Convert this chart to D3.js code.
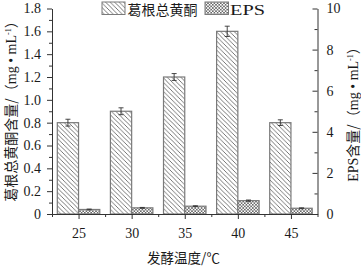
<!DOCTYPE html>
<html><head><meta charset="utf-8">
<script src="https://cdn.jsdelivr.net/npm/d3@7"></script>
<style>
html,body{margin:0;padding:0;background:#fff;}
svg{display:block;}
text{fill:#1a1a1a;}
</style></head>
<body>
<svg id="c" width="361" height="266"></svg>
<script>
const temps = [25, 30, 35, 40, 45];
const flavone = [0.80, 0.90, 1.20, 1.60, 0.80];
const flavoneErr = [0.03, 0.03, 0.03, 0.045, 0.025];
const eps = [0.22, 0.30, 0.38, 0.65, 0.28];
const epsErr = [0.02, 0.02, 0.02, 0.03, 0.02];
const leftTicks = [0, 0.2, 0.4, 0.6, 0.8, 1.0, 1.2, 1.4, 1.6, 1.8];
const leftMinor = [0.1, 0.3, 0.5, 0.7, 0.9, 1.1, 1.3, 1.5, 1.7];
const rightTicks = [0, 2, 4, 6, 8, 10];
const rightMinor = [1, 3, 5, 7, 9];
const xMinor = [22.5, 27.5, 32.5, 37.5, 42.5, 47.5];
const legendLabels = ["葛根总黄酮", "EPS"];
const xTitle = "发酵温度/℃";
const leftTitle = ["葛根总黄酮含量/（", "mg • mL", "-1", "）"];
const rightTitle = ["EPS", "含量/（", "mg • mL", "-1", "）"];

const svg = d3.select("#c");
const serif = "'Liberation Serif','Noto Sans CJK SC',serif";
const cjk = "'Noto Sans CJK SC','Liberation Serif',sans-serif";
const L = 52, R = 317.5, T = 8.5, B = 214;

const x = d3.scaleLinear().domain([22.5, 47.5]).range([L, R]);
const yL = d3.scaleLinear().domain([0, 1.8]).range([B, T]);
const yR = d3.scaleLinear().domain([0, 10]).range([B, T]);
const barW = 2;

const defs = svg.append("defs");
const pA = defs.append("pattern").attr("id", "hatchA").attr("patternUnits", "userSpaceOnUse")
  .attr("width", 4.5).attr("height", 4.5);
pA.append("rect").attr("width", 4.5).attr("height", 4.5).attr("fill", "#fff");
pA.append("path").attr("d", "M-1,-1 L5.5,5.5 M-1,3.5 L1,5.5 M3.5,-1 L5.5,1")
  .attr("stroke", "#555").attr("stroke-width", 0.8);
const pB = defs.append("pattern").attr("id", "hatchB").attr("patternUnits", "userSpaceOnUse")
  .attr("width", 3.2).attr("height", 3.2);
pB.append("rect").attr("width", 3.2).attr("height", 3.2).attr("fill", "#fff");
pB.append("path").attr("d", "M0,0 L3.2,3.2 M3.2,0 L0,3.2")
  .attr("stroke", "#555").attr("stroke-width", 0.7);

// bars
const g = svg.append("g");
g.selectAll("rect.a").data(temps).join("rect").attr("class", "a")
  .attr("x", d => x(d - barW)).attr("width", d => x(d) - x(d - barW))
  .attr("y", (d, i) => yL(flavone[i])).attr("height", (d, i) => yL(0) - yL(flavone[i]))
  .attr("fill", "url(#hatchA)").attr("stroke", "#7a7a7a").attr("stroke-width", 1.2);
g.selectAll("rect.b").data(temps).join("rect").attr("class", "b")
  .attr("x", d => x(d)).attr("width", d => x(d + barW) - x(d))
  .attr("y", (d, i) => yR(eps[i])).attr("height", (d, i) => yR(0) - yR(eps[i]))
  .attr("fill", "url(#hatchB)").attr("stroke", "#7a7a7a").attr("stroke-width", 1.2);

// error bars
function errBars(cls, cx, vals, errs, ys) {
  const e = g.selectAll("g." + cls).data(temps).join("g").attr("class", cls)
    .attr("stroke", "#333").attr("stroke-width", 0.9);
  e.append("line").attr("x1", d => cx(d)).attr("x2", d => cx(d))
    .attr("y1", (d, i) => ys(vals[i] - errs[i])).attr("y2", (d, i) => ys(vals[i] + errs[i]));
  e.append("line").attr("x1", d => cx(d) - 2.5).attr("x2", d => cx(d) + 2.5)
    .attr("y1", (d, i) => ys(vals[i] + errs[i])).attr("y2", (d, i) => ys(vals[i] + errs[i]));
  e.append("line").attr("x1", d => cx(d) - 2.5).attr("x2", d => cx(d) + 2.5)
    .attr("y1", (d, i) => ys(vals[i] - errs[i])).attr("y2", (d, i) => ys(vals[i] - errs[i]));
}
errBars("ea", d => x(d - barW / 2), flavone, flavoneErr, yL);
errBars("eb", d => x(d + barW / 2), eps, epsErr, yR);

function styleAxis(sel) {
  sel.selectAll("path.domain").attr("stroke", "#333").attr("stroke-width", 1);
  sel.selectAll(".tick line").attr("stroke", "#333").attr("stroke-width", 1);
  sel.selectAll("text").attr("font-family", serif).attr("font-size", 14).attr("fill", "#1a1a1a");
}

// x axis
const xa = svg.append("g").attr("transform", `translate(0,${B})`)
  .call(d3.axisBottom(x).tickValues(temps).tickSize(5).tickSizeOuter(0).tickPadding(9).tickFormat(d3.format("d")));
styleAxis(xa);
const xm = svg.append("g").attr("transform", `translate(0,${B})`)
  .call(d3.axisBottom(x).tickValues(xMinor).tickSize(3).tickSizeOuter(0).tickFormat(""));
styleAxis(xm); xm.select("path.domain").remove();

// left axis
const ya = svg.append("g").attr("transform", `translate(${L},0)`)
  .call(d3.axisLeft(yL).tickValues(leftTicks).tickSize(5).tickSizeOuter(0).tickPadding(6)
    .tickFormat(d => d === 0 ? "0" : d3.format(".1f")(d)));
styleAxis(ya);
const ym = svg.append("g").attr("transform", `translate(${L},0)`)
  .call(d3.axisLeft(yL).tickValues(leftMinor).tickSize(3).tickFormat(""));
styleAxis(ym); ym.select("path.domain").remove();

// right axis
const ra = svg.append("g").attr("transform", `translate(${R},0)`)
  .call(d3.axisRight(yR).tickValues(rightTicks).tickSize(-5).tickSizeOuter(0).tickPadding(9));
styleAxis(ra);
const rm = svg.append("g").attr("transform", `translate(${R},0)`)
  .call(d3.axisRight(yR).tickValues(rightMinor).tickSize(-3).tickFormat(""));
styleAxis(rm); rm.select("path.domain").remove();

// axis titles
svg.append("text").attr("x", 183.5).attr("y", 263).attr("text-anchor", "middle")
  .attr("font-family", cjk).attr("font-size", 13.5).text(xTitle);

function yTitle(cx, cy, parts) {
  const t = svg.append("text").attr("transform", `translate(${cx},${cy}) rotate(-90)`)
    .attr("text-anchor", "middle").attr("font-size", 14).attr("font-family", serif);
  parts.forEach(p => {
    const isCjk = /[\u3000-\u9fff\uff00-\uffef]/.test(p);
    const sp = t.append("tspan").attr("font-family", isCjk ? cjk : serif).text(p);
    if (p === "-1") sp.attr("font-size", 8).attr("dy", -5);
    if (p === "）") sp.attr("dy", 5);
  });
  return t;
}
yTitle(15.5, 108, leftTitle);
yTitle(358, 111, rightTitle);

// legend
const lg = svg.append("g");
lg.append("rect").attr("x", 102).attr("y", 2).attr("width", 23).attr("height", 12.5)
  .attr("fill", "url(#hatchA)").attr("stroke", "#7a7a7a").attr("stroke-width", 1);
lg.append("text").attr("x", 127.5).attr("y", 14.5).attr("font-family", cjk).attr("font-size", 14)
  .text(legendLabels[0]);
lg.append("rect").attr("x", 205).attr("y", 2).attr("width", 23.5).attr("height", 12.5)
  .attr("fill", "url(#hatchB)").attr("stroke", "#7a7a7a").attr("stroke-width", 1);
lg.append("text").attr("x", 230).attr("y", 14.5).attr("font-family", serif).attr("font-size", 15)
  .attr("textLength", 35).attr("lengthAdjust", "spacingAndGlyphs").text(legendLabels[1]);
</script>
</body></html>
